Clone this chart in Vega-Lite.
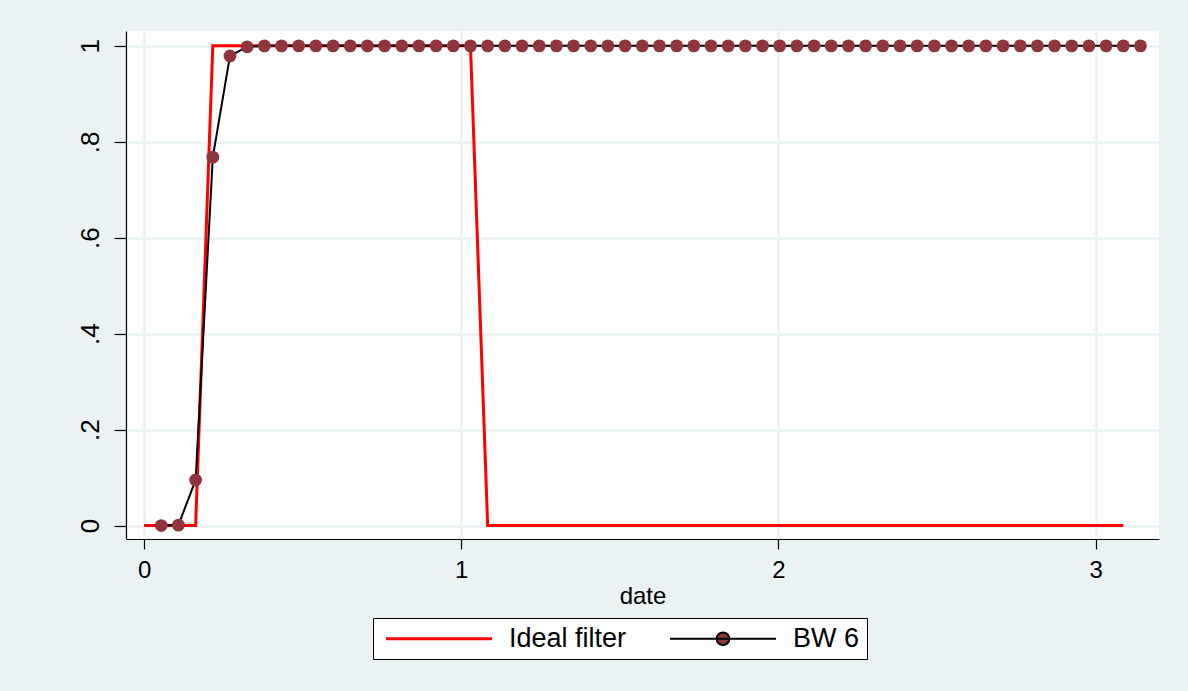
{
  "$schema": "https://vega.github.io/schema/vega-lite/v6.json",
  "autosize": {"type": "none"},
  "width": 1033,
  "height": 508,
  "padding": {"left": 126, "top": 31, "right": 29, "bottom": 152},
  "background": "#eaf2f3",
  "config": {
    "view": {"stroke": null, "fill": "white"},
    "font": "Liberation Sans"
  },
  "data": {"values": [
    {"date": 0.0, "ideal": 0, "bw": null},
    {"date": 0.0542, "ideal": 0, "bw": 0.0},
    {"date": 0.1083, "ideal": 0, "bw": 0.001},
    {"date": 0.1625, "ideal": 0, "bw": 0.095},
    {"date": 0.2167, "ideal": 1, "bw": 0.768},
    {"date": 0.2708, "ideal": 1, "bw": 0.979},
    {"date": 0.3250, "ideal": 1, "bw": 0.998},
    {"date": 0.3792, "ideal": 1, "bw": 1},
    {"date": 0.4333, "ideal": 1, "bw": 1},
    {"date": 0.4875, "ideal": 1, "bw": 1},
    {"date": 0.5417, "ideal": 1, "bw": 1},
    {"date": 0.5958, "ideal": 1, "bw": 1},
    {"date": 0.6500, "ideal": 1, "bw": 1},
    {"date": 0.7041, "ideal": 1, "bw": 1},
    {"date": 0.7583, "ideal": 1, "bw": 1},
    {"date": 0.8125, "ideal": 1, "bw": 1},
    {"date": 0.8666, "ideal": 1, "bw": 1},
    {"date": 0.9208, "ideal": 1, "bw": 1},
    {"date": 0.9750, "ideal": 1, "bw": 1},
    {"date": 1.0291, "ideal": 1, "bw": 1},
    {"date": 1.0833, "ideal": 0, "bw": 1},
    {"date": 1.1375, "ideal": 0, "bw": 1},
    {"date": 1.1916, "ideal": 0, "bw": 1},
    {"date": 1.2458, "ideal": 0, "bw": 1},
    {"date": 1.3000, "ideal": 0, "bw": 1},
    {"date": 1.3541, "ideal": 0, "bw": 1},
    {"date": 1.4083, "ideal": 0, "bw": 1},
    {"date": 1.4625, "ideal": 0, "bw": 1},
    {"date": 1.5166, "ideal": 0, "bw": 1},
    {"date": 1.5708, "ideal": 0, "bw": 1},
    {"date": 1.6250, "ideal": 0, "bw": 1},
    {"date": 1.6791, "ideal": 0, "bw": 1},
    {"date": 1.7333, "ideal": 0, "bw": 1},
    {"date": 1.7874, "ideal": 0, "bw": 1},
    {"date": 1.8416, "ideal": 0, "bw": 1},
    {"date": 1.8958, "ideal": 0, "bw": 1},
    {"date": 1.9499, "ideal": 0, "bw": 1},
    {"date": 2.0041, "ideal": 0, "bw": 1},
    {"date": 2.0583, "ideal": 0, "bw": 1},
    {"date": 2.1124, "ideal": 0, "bw": 1},
    {"date": 2.1666, "ideal": 0, "bw": 1},
    {"date": 2.2208, "ideal": 0, "bw": 1},
    {"date": 2.2749, "ideal": 0, "bw": 1},
    {"date": 2.3291, "ideal": 0, "bw": 1},
    {"date": 2.3833, "ideal": 0, "bw": 1},
    {"date": 2.4374, "ideal": 0, "bw": 1},
    {"date": 2.4916, "ideal": 0, "bw": 1},
    {"date": 2.5458, "ideal": 0, "bw": 1},
    {"date": 2.5999, "ideal": 0, "bw": 1},
    {"date": 2.6541, "ideal": 0, "bw": 1},
    {"date": 2.7083, "ideal": 0, "bw": 1},
    {"date": 2.7624, "ideal": 0, "bw": 1},
    {"date": 2.8166, "ideal": 0, "bw": 1},
    {"date": 2.8707, "ideal": 0, "bw": 1},
    {"date": 2.9249, "ideal": 0, "bw": 1},
    {"date": 2.9791, "ideal": 0, "bw": 1},
    {"date": 3.0332, "ideal": 0, "bw": 1},
    {"date": 3.0874, "ideal": 0, "bw": 1},
    {"date": 3.1416, "ideal": null, "bw": 1}
  ]},
  "encoding": {
    "x": {
      "field": "date", "type": "quantitative",
      "scale": {"domain": [-0.057, 3.2], "nice": false, "zero": false},
      "axis": {
        "values": [0, 1, 2, 3], "title": "date", "format": "d",
        "grid": true, "gridColor": "#eaf2f3", "gridWidth": 2.5,
        "domainColor": "black", "domainWidth": 1.2,
        "tickColor": "black", "tickSize": 10, "tickWidth": 1.2,
        "labelFontSize": 24, "labelColor": "black", "labelPadding": 9,
        "titleFontSize": 24, "titleFontWeight": "normal", "titleColor": "black", "titlePadding": 2
      }
    }
  },
  "layer": [
    {
      "transform": [{"filter": "datum.ideal != null"}],
      "mark": {"type": "line", "strokeWidth": 3},
      "encoding": {
        "y": {
          "field": "ideal", "type": "quantitative",
          "scale": {"domain": [-0.028, 1.031], "nice": false, "zero": false},
          "axis": {
            "values": [0, 0.2, 0.4, 0.6, 0.8, 1], "title": null,
            "labelExpr": "datum.value == 0 || datum.value == 1 ? format(datum.value, 'd') : slice(format(datum.value, '.1f'), 1)",
            "labelAngle": -90, "labelAlign": "center", "labelBaseline": "bottom",
            "grid": true, "gridColor": "#eaf2f3", "gridWidth": 2.5,
            "domainColor": "black", "domainWidth": 1.2,
            "tickColor": "black", "tickSize": 12, "tickWidth": 1.2,
            "labelFontSize": 26, "labelColor": "black", "labelPadding": 11
          }
        },
        "color": {
          "datum": "Ideal filter", "type": "nominal",
          "scale": {"domain": ["Ideal filter", "BW 6"], "range": ["#ff0000", "#000000"]},
          "legend": {
            "orient": "none", "legendX": 247, "legendY": 587, "direction": "horizontal",
            "title": null, "symbolType": "stroke", "symbolSize": 11236, "symbolStrokeWidth": 3,
            "labelFontSize": 27, "labelColor": "black", "labelOffset": 17, "labelLimit": 300,
            "columnPadding": 37, "padding": 7, "strokeColor": "black", "fillColor": "white",
            "encode": {
              "symbols": {
                "update": {
                  "x": {"value": 59},
                  "size": {"value": 11236},
                  "shape": {"signal": "datum.value === 'BW 6' ? 'M-1,0H1M0.12,0A0.12,0.12 0 1,1 -0.12,0A0.12,0.12 0 1,1 0.12,0Z' : 'stroke'"},
                  "strokeWidth": {"signal": "datum.value === 'BW 6' ? 2 : 3"},
                  "fill": {"signal": "datum.value === 'BW 6' ? '#90353b' : 'transparent'"},
                  "fillOpacity": {"value": 1}
                }
              },
              "labels": {
                "update": {
                  "x": {"value": 129}
                }
              }
            }
          }
        }
      }
    },
    {
      "transform": [{"filter": "datum.bw != null"}],
      "mark": {"type": "line", "strokeWidth": 2},
      "encoding": {
        "y": {"field": "bw", "type": "quantitative"},
        "color": {"datum": "BW 6", "type": "nominal"}
      }
    },
    {
      "transform": [{"filter": "datum.bw != null"}],
      "mark": {"type": "point", "filled": true, "size": 165, "opacity": 1, "color": "#90353b"},
      "encoding": {
        "y": {"field": "bw", "type": "quantitative"}
      }
    }
  ]
}
